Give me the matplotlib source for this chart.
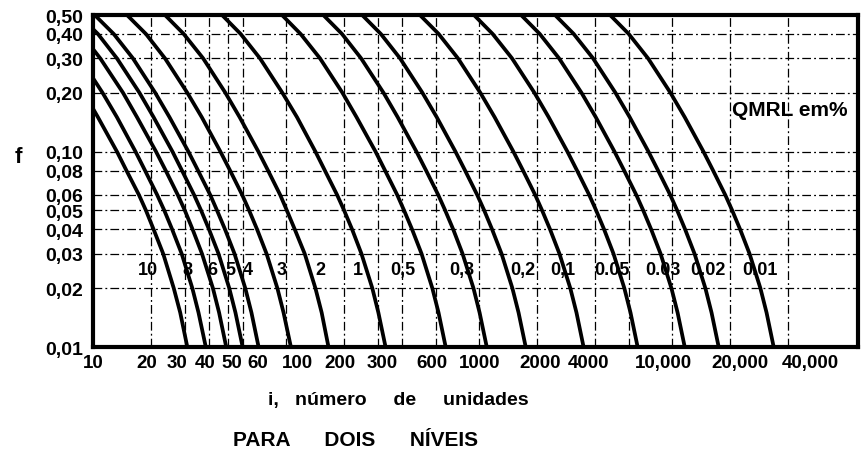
import matplotlib

matplotlib.use("Agg")
import matplotlib.pyplot as plt
from matplotlib.ticker import FixedLocator, NullFormatter, NullLocator
from matplotlib.transforms import ScaledTranslation


plt.rcParams["font.family"] = ["Liberation Sans", "DejaVu Sans"]
plt.rcParams["font.weight"] = "bold"

# f levels (same for all curves)
F_VALUES = [0.5, 0.4, 0.3, 0.2, 0.15, 0.1, 0.08, 0.06, 0.05, 0.04, 0.03, 0.02, 0.015, 0.01]

QMRL_LABELS = ["10", "8", "6", "5", "4", "3", "2", "1", "0,5", "0,3",
               "0,2", "0,1", "0.05", "0.03", "0.02", "0.01"]

# i (number of units) at the F_VALUES levels
I_CURVES = [
    [4.37, 5.46, 6.87, 8.97, 10.6, 13.3, 14.9, 17.3, 18.8, 20.6, 23.1, 26.2, 28.3, 30.8],
    [5.45, 6.81, 8.57, 11.2, 13.3, 16.6, 18.6, 21.5, 23.4, 25.7, 28.8, 32.7, 35.2, 38.4],
    [6.95, 8.69, 10.9, 14.3, 16.9, 21.2, 23.8, 27.5, 29.9, 32.8, 36.7, 41.8, 45.0, 49.0],
    [8.45, 10.6, 13.3, 17.4, 20.6, 25.8, 28.9, 33.4, 36.3, 39.9, 44.7, 50.8, 54.7, 59.6],
    [10.2, 12.8, 16.1, 21.0, 24.9, 31.2, 35.0, 40.5, 43.9, 48.3, 54.1, 61.5, 66.2, 72.1],
    [15.0, 18.8, 23.6, 30.8, 36.6, 45.7, 51.3, 59.3, 64.4, 70.8, 79.3, 90.2, 97.1, 106],
    [23.6, 29.5, 37.2, 48.5, 57.5, 71.9, 80.7, 93.3, 101, 111, 125, 142, 153, 166],
    [46.6, 58.2, 73.3, 95.7, 114, 142, 159, 184, 200, 220, 246, 280, 301, 328],
    [95.3, 119, 150, 196, 232, 291, 326, 377, 409, 450, 504, 573, 617, 672],
    [156, 195, 245, 320, 379, 474, 532, 615, 668, 735, 822, 936, 1007, 1097],
    [248, 310, 390, 509, 604, 755, 847, 979, 1064, 1169, 1309, 1489, 1603, 1746],
    [494, 618, 778, 1016, 1205, 1507, 1691, 1955, 2123, 2334, 2612, 2972, 3199, 3483],
    [942, 1177, 1483, 1937, 2296, 2871, 3221, 3724, 4046, 4447, 4977, 5663, 6095, 6638],
    [1652, 2065, 2600, 3396, 4028, 5035, 5650, 6532, 7095, 7799, 8729, 9932, 10690, 11642],
    [2477, 3096, 3899, 5093, 6039, 7550, 8471, 9794, 10639, 11694, 13088, 14892, 16029, 17456],
    [4775, 5969, 7516, 9817, 11641, 14554, 16331, 18881, 20509, 22543, 25231, 28707, 30899, 33649],
]

LABEL_I = [19.3, 31.0, 41.4, 51.3, 63.5, 95.3, 150, 236, 403, 817,
           1690, 2720, 4890, 8970, 15400, 28600]
LABEL_F = 0.025

X_TICKS = [10, 20, 30, 40, 50, 60, 100, 200, 300, 600, 1000, 2000, 4000,
           10000, 20000, 40000]
X_TICK_LABELS = ["10", "20", "30", "40", "50", "60", "100", "200", "300",
                 "600", "1000", "2000", "4000", "10,000", "20,000", "40,000"]
X_EXTRA_GRID = [400, 6000]

Y_TICKS = [0.5, 0.4, 0.3, 0.2, 0.1, 0.08, 0.06, 0.05, 0.04, 0.03, 0.02, 0.01]
Y_TICK_LABELS = ["0,50", "0,40", "0,30", "0,20", "0,10", "0,08", "0,06",
                 "0,05", "0,04", "0,03", "0,02", "0,01"]

# the hand-lettered x labels sit a little off their grid lines (pixels)
X_LABEL_SHIFT_PX = [0, -4, -8, -4, 4, 15, 11, -4, 4, -4, 1, 3, -7, -9, 10, 22]


def main() -> None:
    fig = plt.figure(figsize=(8.63, 4.56), dpi=100)
    ax = fig.add_axes([0.1078, 0.2368, 0.8864, 0.7281])

    ax.set_xscale("log")
    ax.set_yscale("log")
    ax.set_xlim(10, 92000)
    ax.set_ylim(0.01, 0.5)

    for values in I_CURVES:
        ax.plot(values, F_VALUES, color="black", linewidth=2.7,
                solid_capstyle="butt", solid_joinstyle="round")

    for label, xpos in zip(QMRL_LABELS, LABEL_I):
        ax.text(xpos, LABEL_F, label, fontsize=13, fontweight="bold",
                ha="center", va="center")

    ax.text(20500, 0.165, "QMRL em%", fontsize=15, fontweight="bold",
            ha="left", va="center")

    ax.xaxis.set_major_locator(FixedLocator(X_TICKS))
    ax.set_xticklabels(X_TICK_LABELS)
    ax.xaxis.set_minor_locator(FixedLocator(X_EXTRA_GRID))
    ax.xaxis.set_minor_formatter(NullFormatter())

    ax.yaxis.set_major_locator(FixedLocator(Y_TICKS))
    ax.set_yticklabels(Y_TICK_LABELS)
    ax.yaxis.set_minor_locator(NullLocator())

    ax.tick_params(which="both", length=0)
    ax.tick_params(axis="x", labelsize=13.5, pad=5)
    ax.tick_params(axis="y", labelsize=14, pad=7)

    for tick, shift in zip(ax.xaxis.get_major_ticks(), X_LABEL_SHIFT_PX):
        offset = ScaledTranslation(shift / 100, 0, fig.dpi_scale_trans)
        tick.label1.set_transform(tick.label1.get_transform() + offset)

    ax.grid(which="both", color="black", linewidth=0.9,
            linestyle=(0, (7, 2.5, 1.5, 2.5)))
    ax.set_axisbelow(True)

    for spine in ax.spines.values():
        spine.set_linewidth(3)

    fig.text(0.021, 0.655, "f", fontsize=16, fontweight="bold",
             ha="center", va="center")
    fig.text(0.462, 0.122, "i,   número     de     unidades", fontsize=14,
             fontweight="bold", ha="center", va="center")
    fig.text(0.412, 0.035, "PARA      DOIS      NÍVEIS", fontsize=15,
             fontweight="bold", ha="center", va="center")

    fig.savefig("out.png", dpi=100)
    plt.close(fig)


if __name__ == "__main__":
    main()
